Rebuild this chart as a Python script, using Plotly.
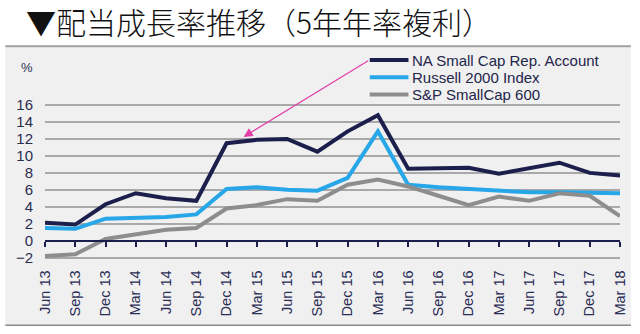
import plotly.graph_objects as go

categories = ["Jun 13", "Sep 13", "Dec 13", "Mar 14", "Jun 14", "Sep 14", "Dec 14", "Mar 15",
              "Jun 15", "Sep 15", "Dec 15", "Mar 16", "Jun 16", "Sep 16", "Dec 16", "Mar 17",
              "Jun 17", "Sep 17", "Dec 17", "Mar 18"]
na_small_cap = [2.1, 1.9, 4.3, 5.6, 5.0, 4.7, 11.5, 11.9, 12.0, 10.5, 12.9, 14.8,
                8.5, 8.6, 8.6, 7.9, 8.6, 9.2, 8.0, 7.7]
russell_2000 = [1.5, 1.4, 2.6, 2.7, 2.8, 3.1, 6.1, 6.3, 6.0, 5.9, 7.4, 12.9,
                6.6, 6.3, 6.1, 5.9, 5.7, 5.7, 5.7, 5.6]
sp_600 = [-1.8, -1.6, 0.2, 0.8, 1.3, 1.5, 3.8, 4.2, 4.9, 4.7, 6.6, 7.2,
          6.4, 5.3, 4.2, 5.2, 4.7, 5.6, 5.3, 2.9]
y_ticks = [-2, 0, 2, 4, 6, 8, 10, 12, 14, 16]
series_names = ["NA Small Cap Rep. Account", "Russell 2000 Index", "S&P SmallCap 600"]
title_text = "▼配当成長率推移（5年年率複利）"

W, H = 640, 334
L, R, T, B = 45, 16, 100, 72.5
PW, PH = W - L - R, H - T - B
y_range = [-2.4, 16.6]
zero_pos = (0 - y_range[0]) / (y_range[1] - y_range[0])


def px(x):
    return (x - L) / PW


def py(y):
    return (H - B - y) / PH


fig = go.Figure()
colors = ["#1c1f4c", "#27a7e7", "#8d8d8d"]
for name, vals, c in zip(series_names, [na_small_cap, russell_2000, sp_600], colors):
    fig.add_trace(go.Scatter(x=categories, y=vals, name=name, mode="lines",
                             line=dict(color=c, width=4), hoverinfo="skip",
                             showlegend=False))

font = "Liberation Sans, Arial, sans-serif"
fig.update_layout(
    width=W, height=H,
    margin=dict(l=L, r=R, t=T, b=B),
    paper_bgcolor="white",
    plot_bgcolor="rgba(0,0,0,0)",
    font=dict(family=font, color="#2a2d52"),
    xaxis=dict(type="category", range=[0, len(categories) - 1],
               anchor="free", position=zero_pos,
               showline=True, linecolor="#1c1f4c", linewidth=2,
               ticks="outside", ticklen=5, tickwidth=1.5, tickcolor="#1c1f4c",
               tickangle=-90, tickfont=dict(size=14.5, color="#2a2d55"),
               ticklabelstandoff=18, showgrid=False, zeroline=False),
    yaxis=dict(range=y_range, tickvals=y_ticks, showgrid=True,
               gridcolor="#a9a9a9", gridwidth=1.5, zeroline=False,
               tickfont=dict(size=15, color="#2a2d52"), ticks="",
               ticklabelstandoff=11),
)

# panel background and borders
fig.add_shape(type="rect", xref="paper", yref="paper", layer="below",
              x0=px(5), x1=px(635), y0=py(326), y1=py(47),
              fillcolor="#f0f0f0", line=dict(width=0))
fig.add_shape(type="line", xref="paper", yref="paper",
              x0=px(5), x1=px(635), y0=py(46), y1=py(46),
              line=dict(color="#a0a0a0", width=2))
fig.add_shape(type="line", xref="paper", yref="paper",
              x0=px(5), x1=px(635), y0=py(326), y1=py(326),
              line=dict(color="#8a8a8a", width=1.5))

# legend (manual)
for i, (name, c) in enumerate(zip(series_names, colors)):
    yy = 60 + i * 17.3
    fig.add_shape(type="line", xref="paper", yref="paper",
                  x0=px(372), x1=px(411), y0=py(yy), y1=py(yy),
                  line=dict(color=c, width=4))
    fig.add_annotation(text=name, xref="paper", yref="paper",
                       x=px(413), y=py(yy), xanchor="left", yanchor="middle",
                       showarrow=False,
                       font=dict(size=15, color="#23254a", family=font))

# title
fig.add_annotation(text=title_text, xref="paper", yref="paper",
                   x=px(24), y=py(21), xanchor="left", yanchor="middle",
                   showarrow=False,
                   font=dict(size=30, color="#111111", family="Noto Sans CJK JP",
                             weight=300))
# percent label
fig.add_annotation(text="%", xref="paper", yref="paper",
                   x=px(27), y=py(67), xanchor="center", yanchor="middle",
                   showarrow=False,
                   font=dict(size=13, color="#2a2d52", family=font))
# pink arrow
fig.add_annotation(text="", xref="paper", yref="paper",
                   x=px(245), y=py(137),
                   ax=126, ay=-77, axref="pixel", ayref="pixel",
                   showarrow=True, arrowhead=2, arrowsize=1.5, arrowwidth=1.2,
                   arrowcolor="#e23fa8")

fig.write_html("out.html")
